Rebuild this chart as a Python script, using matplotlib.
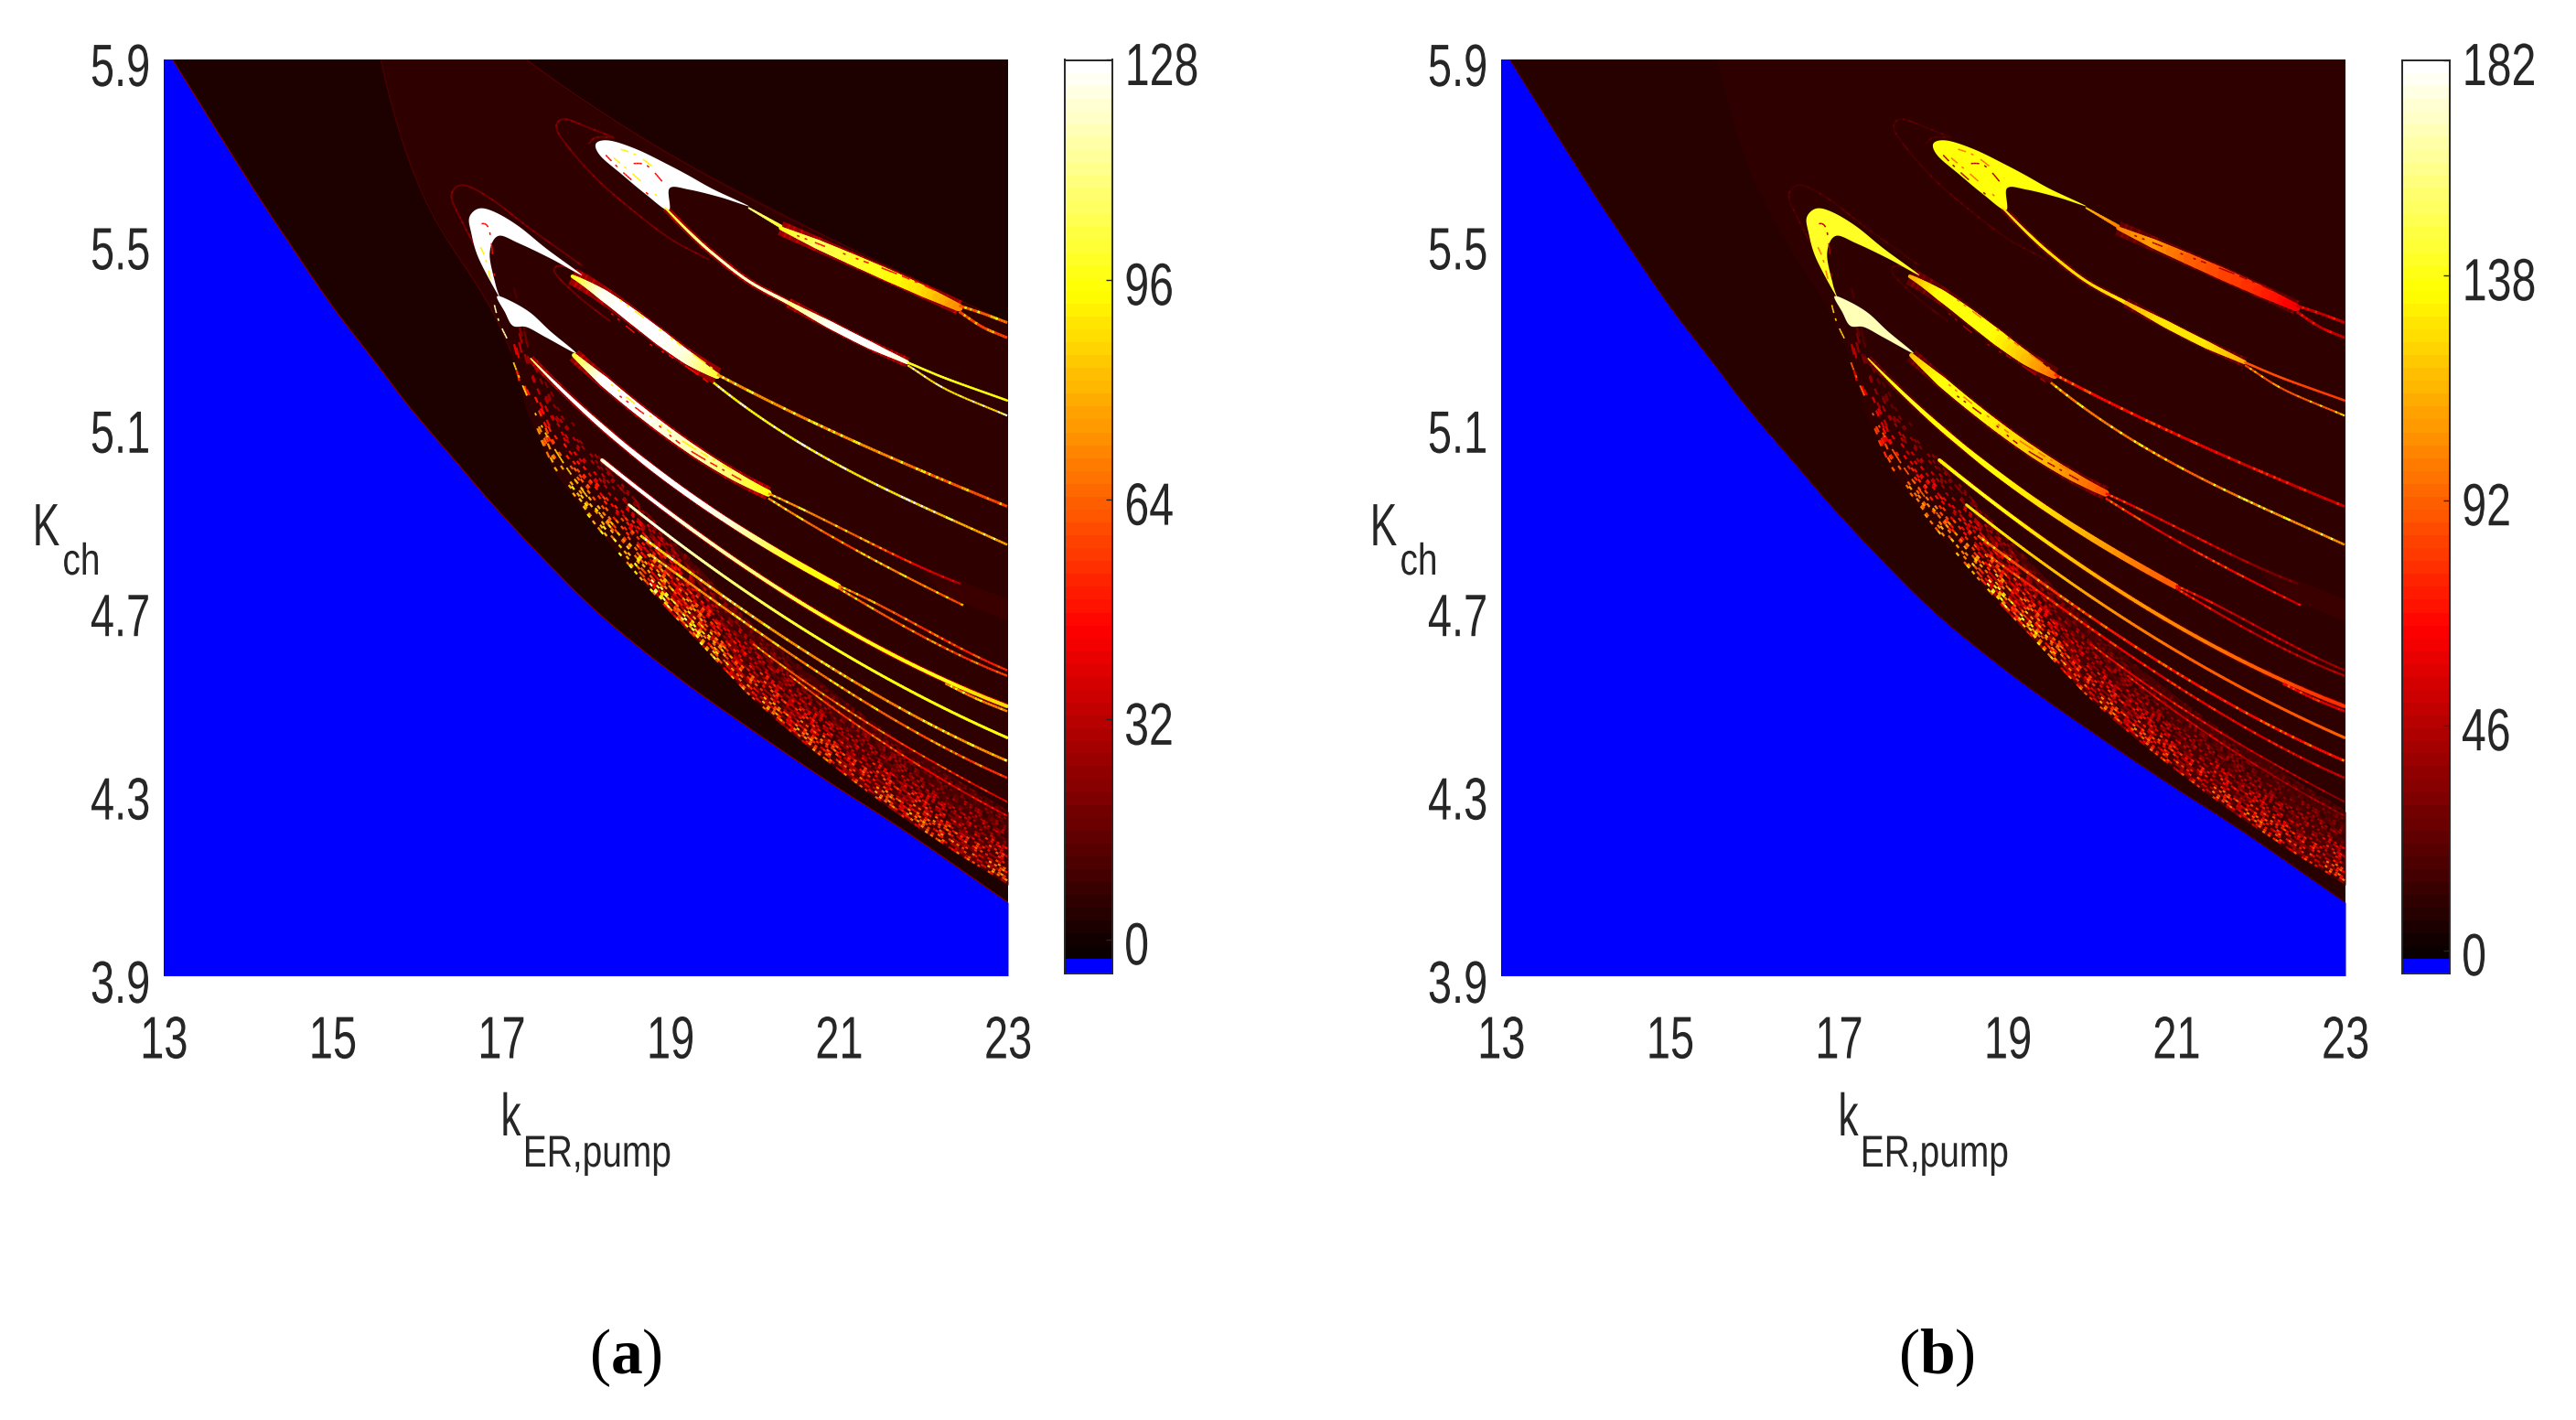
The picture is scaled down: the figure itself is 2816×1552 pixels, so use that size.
import numpy as np
import matplotlib
matplotlib.use("Agg")
import matplotlib.pyplot as plt
import matplotlib.patheffects as pe
from matplotlib.collections import LineCollection
from matplotlib.colors import ListedColormap, Normalize
from matplotlib.transforms import Affine2D, ScaledTranslation

# ---------- axes content ----------
X_TICKS = [13, 15, 17, 19, 21, 23]
Y_TICKS = [3.9, 4.3, 4.7, 5.1, 5.5, 5.9]
CBAR_TICKS_A = [0, 32, 64, 96, 128]
CBAR_TICKS_B = [0, 46, 92, 138, 182]
CBAR_MIN_A, CBAR_MAX_A = -4.9, 128
CBAR_MIN_B, CBAR_MAX_B = -4.66, 182

# background levels: left strip, middle region, top-right region, right wedge, fringe
BG_A = [1.5, 5.0, 1.5, 8.0, 8.0]
BG_B = [7.0, 9.0, 9.0, 12.0, 12.0]

# ---------- region boundaries (k, K) ----------
BLUE_K = [13.0, 13.1, 14.0, 14.5, 15.0, 15.5, 15.936, 16.478, 16.946, 17.6, 18.247, 19.132, 20.016, 20.901, 21.785, 23.0]
BLUE_CH = [5.93, 5.9, 5.635, 5.495, 5.36, 5.24, 5.135, 5.018, 4.918, 4.79, 4.675, 4.545, 4.43, 4.32, 4.215, 4.06]
ARC_K = [15.57, 15.7, 15.936, 16.22, 16.55, 16.876, 17.11]
ARC_CH = [5.9, 5.80, 5.659, 5.555, 5.449, 5.355, 5.262]
FRINGE_K = [17.15, 17.3, 17.6, 17.8, 18.25, 18.645, 19.01, 19.295, 19.55, 19.91, 20.27, 20.63, 20.99, 21.35, 21.715, 22.08, 22.44, 22.8, 23.0]
FRINGE_CH = [5.24, 5.13, 5.008, 4.955, 4.85, 4.765, 4.69, 4.636, 4.585, 4.515, 4.455, 4.40, 4.348, 4.298, 4.25, 4.205, 4.161, 4.121, 4.098]
TOP_K = [17.3, 18.05, 19.225, 20.635, 22.05, 23.0]
TOP_CH = [5.9, 5.796, 5.669, 5.535, 5.402, 5.325]
WEDGE_K = [21.895, 22.256, 23.0, 23.0]
WEDGE_CH = [4.801, 4.728, 4.674, 4.721]

# ---------- filled hooks ----------
H1_K = [18.12, 18.286, 18.615, 18.99, 19.225, 19.507, 19.93, 19.60, 19.225, 18.99, 18.98, 18.708, 18.427, 18.17]
H1_CH = [5.716, 5.722, 5.702, 5.668, 5.645, 5.616, 5.579, 5.598, 5.615, 5.618, 5.570, 5.605, 5.648, 5.689]
H2_K = [16.62, 16.735, 16.923, 17.205, 17.534, 17.957, 17.58, 17.205, 16.96, 16.86, 16.93, 16.97, 16.73, 16.64]
H2_CH = [5.555, 5.574, 5.566, 5.535, 5.486, 5.428, 5.465, 5.498, 5.514, 5.475, 5.408, 5.382, 5.465, 5.522]
H3_K = [16.946, 17.11, 17.346, 17.58, 17.886, 17.534, 17.30, 17.134, 17.04]
H3_CH = [5.382, 5.372, 5.346, 5.306, 5.258, 5.292, 5.315, 5.318, 5.348]
HOOK_A = [128, 128, 128]
HOOK_B = [135, 140, 168]

# ---------- bands ----------
U0_K = [19.93, 20.306]; U0_CH = [5.575, 5.535]; U0_A = [110, 100]; U0_B = [115, 100]
U1_K = [20.306, 20.635, 21.105, 21.575, 22.045, 22.42]; U1_CH = [5.532, 5.502, 5.469, 5.428, 5.389, 5.358]
U1_A = [98, 106, 100, 96, 88, 72]; U1_B = [100, 108, 92, 84, 76, 62]
U2_K = [22.42, 22.70, 22.99]; U2_CH = [5.362, 5.345, 5.325]; U2_A = [75, 80, 85]; U2_B = [62, 62, 66]
U3_K = [22.42, 22.70, 22.99]; U3_CH = [5.349, 5.315, 5.292]; U3_A = [72, 72, 72]; U3_B = [60, 60, 60]
D0_K = [18.94, 19.225, 19.507, 19.93, 20.40]; D0_CH = [5.575, 5.522, 5.475, 5.415, 5.368]; D0_A = [95, 110, 120, 120, 118]; D0_B = [125, 130, 125, 125, 128]
D1_K = [20.40, 20.87, 21.34, 21.81]; D1_CH = [5.368, 5.322, 5.278, 5.238]; D1_A = [110, 125, 128, 122]; D1_B = [115, 128, 128, 112]
D2_K = [21.81, 22.28, 22.99]; D2_CH = [5.238, 5.202, 5.155]; D2_A = [98, 96, 94]; D2_B = [88, 84, 80]
D3_K = [21.81, 22.28, 22.99]; D3_CH = [5.232, 5.178, 5.122]; D3_A = [110, 110, 105]; D3_B = [105, 110, 110]
B_K = [17.84, 18.145, 18.474, 18.85, 19.225, 19.555]; B_CH = [5.425, 5.395, 5.348, 5.295, 5.248, 5.208]
B_A = [96, 124, 128, 128, 122, 100]; B_B = [112, 135, 135, 135, 120, 95]
LA_K = [19.555, 20.165, 20.87, 21.17, 21.53, 21.895, 22.256, 22.617, 22.99]; LA_CH = [5.212, 5.155, 5.088, 5.068, 5.041, 5.008, 4.978, 4.951, 4.925]
LA_A = [92, 92, 90, 88, 92, 86, 78, 76, 72]; LA_B = [90, 85, 80, 75, 75, 70, 68, 65, 62]
LB_K = [19.51, 19.93, 20.45, 20.81, 21.17, 21.53, 21.895, 22.256, 22.617, 22.99]; LB_CH = [5.195, 5.135, 5.068, 5.035, 5.001, 4.961, 4.931, 4.901, 4.871, 4.841]
LB_A = [115, 118, 118, 118, 112, 112, 112, 100, 96, 96]; LB_B = [120, 125, 125, 118, 112, 118, 125, 130, 132, 132]
M_K = [17.86, 18.286, 18.755, 19.04, 19.37, 19.73, 20.16]; M_CH = [5.252, 5.19, 5.115, 5.071, 5.035, 4.998, 4.951]
M_A = [100, 128, 128, 122, 116, 108, 96]; M_B = [118, 135, 135, 128, 120, 105, 88]
M1_K = [20.16, 20.52, 20.88, 21.25, 21.61, 21.97, 22.44]; M1_CH = [4.951, 4.925, 4.888, 4.854, 4.821, 4.794, 4.754]
M1_A = [88, 92, 82, 75, 60, 45, 35]; M1_B = [82, 78, 70, 62, 50, 38, 28]
M2_K = [20.16, 20.45, 20.81, 21.17, 21.53, 21.895, 22.256, 22.47]; M2_CH = [4.942, 4.908, 4.868, 4.834, 4.794, 4.761, 4.728, 4.708]
M2_A = [92, 88, 78, 70, 90, 85, 80, 70]; M2_B = [90, 88, 70, 62, 85, 75, 70, 60]
L1_K = [17.346, 17.534, 17.91, 18.286, 18.52, 18.645, 19.01, 19.37, 19.73, 20.09, 20.45, 20.81, 20.99]
L1_CH = [5.255, 5.202, 5.142, 5.081, 5.048, 5.031, 4.981, 4.931, 4.884, 4.841, 4.804, 4.768, 4.751]
L1_A = [105, 128, 128, 128, 128, 128, 128, 126, 122, 112, 100, 96, 94]; L1_B = [125, 138, 138, 136, 135, 135, 132, 128, 120, 112, 104, 96, 90]
L1A_K = [20.99, 21.35, 21.715, 22.08, 22.44, 22.80, 22.99]; L1A_CH = [4.751, 4.721, 4.684, 4.651, 4.614, 4.581, 4.567]
L1A_A = [84, 78, 72, 66, 62, 62, 66]; L1A_B = [75, 68, 60, 56, 52, 50, 50]
L1B_K = [20.99, 21.35, 21.715, 22.08, 22.44, 22.99]; L1B_CH = [4.745, 4.708, 4.668, 4.628, 4.601, 4.554]
L1B_A = [82, 78, 72, 68, 66, 70]; L1B_B = [75, 68, 58, 54, 52, 55]
L2_K = [18.19, 18.474, 18.645, 19.01, 19.37, 19.73, 20.09, 20.45, 20.81, 21.17, 21.53, 21.895, 22.256, 22.617, 22.99]
L2_CH = [5.028, 4.981, 4.955, 4.908, 4.861, 4.811, 4.768, 4.728, 4.681, 4.644, 4.611, 4.578, 4.544, 4.515, 4.488]
L2_A = [122, 128, 128, 122, 118, 112, 108, 102, 98, 98, 96, 96, 98, 88, 88]; L2_B = [130, 138, 138, 132, 125, 118, 112, 108, 104, 100, 96, 92, 88, 80, 78]
L2B_K = [22.256, 22.617, 22.99]; L2B_CH = [4.538, 4.505, 4.477]; L2B_A = [90, 86, 90]; L2B_B = [80, 72, 72]
L3_K = [18.51, 18.645, 19.01, 19.37, 19.73, 20.09, 20.45, 20.81, 21.17, 21.53, 21.895, 22.256, 22.617, 22.99]
L3_CH = [4.928, 4.904, 4.858, 4.808, 4.764, 4.714, 4.668, 4.621, 4.591, 4.555, 4.521, 4.481, 4.451, 4.418]
L3_A = [118, 124, 118, 112, 108, 104, 100, 98, 98, 96, 96, 96, 96, 96]; L3_B = [125, 130, 122, 118, 112, 105, 100, 96, 92, 90, 88, 88, 88, 92]
L4_K = [18.645, 19.01, 19.37, 19.73, 20.09, 20.45, 20.81, 21.17, 21.53, 21.895, 22.256, 22.617, 22.99]
L4_CH = [4.861, 4.811, 4.761, 4.714, 4.668, 4.628, 4.581, 4.545, 4.505, 4.468, 4.428, 4.398, 4.371]
L4_A = [110, 108, 100, 98, 96, 92, 90, 88, 86, 88, 90, 90, 92]; L4_B = [115, 110, 100, 96, 92, 88, 86, 84, 84, 84, 84, 84, 84]
L5_K = [18.75, 19.11, 19.475, 19.84, 20.20, 20.56, 20.92, 21.28, 21.64, 22.0, 22.365, 22.73, 22.99]
L5_CH = [4.821, 4.774, 4.721, 4.674, 4.628, 4.588, 4.545, 4.501, 4.461, 4.421, 4.381, 4.354, 4.334]
L5_A = [95, 92, 90, 88, 88, 86, 84, 82, 80, 76, 72, 68, 66]; L5_B = [95, 92, 88, 84, 80, 78, 76, 74, 72, 70, 66, 62, 60]
L6_K = [19.98, 20.38, 20.81, 21.25, 21.61, 21.97, 22.33, 22.69, 22.99]
L6_CH = [4.628, 4.561, 4.515, 4.468, 4.421, 4.381, 4.341, 4.308, 4.281]
L6_A = [80, 78, 76, 72, 68, 64, 58, 52, 48]; L6_B = [78, 76, 72, 68, 64, 58, 52, 48, 44]
L7_K = [20.41, 20.85, 21.28, 21.715, 22.18, 22.617, 22.99]
L7_CH = [4.555, 4.495, 4.441, 4.381, 4.334, 4.288, 4.248]
L7_A = [72, 70, 66, 60, 52, 46, 42]; L7_B = [70, 66, 60, 54, 48, 42, 38]

# thin outer arcs around the hooks
AT1_K = [18.33, 18.05, 17.745, 17.65, 17.816, 18.145, 18.52, 18.99, 19.46]
AT1_CH = [5.729, 5.749, 5.769, 5.749, 5.702, 5.635, 5.575, 5.509, 5.462]
AT2_K = [18.03, 18.12, 18.33]; AT2_CH = [5.715, 5.729, 5.729]
AH1_K = [16.923, 16.735, 16.523, 16.406, 16.547, 16.876, 17.346, 17.957]
AH1_CH = [5.408, 5.475, 5.549, 5.602, 5.625, 5.595, 5.529, 5.449]
AB_K = [18.286, 17.91, 17.628, 17.72, 17.957]; AB_CH = [5.328, 5.382, 5.435, 5.449, 5.428]
ARC_VAL_A = 21
ARC_VAL_B = 20
THIN_K = [16.9, 16.97, 17.087]; THIN_CH = [5.375, 5.328, 5.282]
THIN2_K = [17.12, 17.2, 17.33, 17.5, 17.7, 17.95, 18.2]; THIN2_CH = [5.255, 5.2, 5.16, 5.09, 5.03, 4.96, 4.90]

# specks inside the bright parts
FLECK1_K = [18.19, 18.427, 18.755]; FLECK1_CH = [5.699, 5.655, 5.602]
FLECK2_K = [18.28, 18.55, 18.85]; FLECK2_CH = [5.692, 5.650, 5.600]
FLECK3_K = [18.5, 18.72, 18.94]; FLECK3_CH = [5.672, 5.668, 5.625]
FLECK4_K = [18.35, 18.62, 18.96]; FLECK4_CH = [5.707, 5.688, 5.640]
FLECK5_K = [16.7, 16.85, 16.92]; FLECK5_CH = [5.54, 5.53, 5.42]
FLECK6_K = [16.72, 16.8, 16.87]; FLECK6_CH = [5.50, 5.47, 5.42]
FLECK7_K = [18.3, 18.7, 19.1, 19.45]; FLECK7_CH = [5.345, 5.285, 5.24, 5.195]
FLECK8_K = [18.4, 18.8, 19.2, 19.5]; FLECK8_CH = [5.375, 5.32, 5.265, 5.225]
FLECK9_K = [20.5, 21.1, 21.7, 22.3]; FLECK9_CH = [5.515, 5.472, 5.43, 5.382]
FLECK10_K = [18.3, 18.7, 19.2, 19.9]; FLECK10_CH = [5.19, 5.13, 5.06, 4.985]
FLECK11_K = [18.4, 18.8, 19.2, 19.9]; FLECK11_CH = [5.165, 5.11, 5.05, 4.975]

# speckled fringe
FRINGE_A = [35, 45, 55, 60, 68, 78, 78, 72, 66, 58, 54, 52, 52, 52, 52, 52, 52, 52, 52]
FRINGE_B = [40, 50, 62, 70, 85, 100, 100, 92, 85, 75, 70, 66, 66, 66, 66, 66, 66, 66, 66]
SPARSE_K = [17.15, 18.0, 18.6, 19.0, 23.0]
SPARSE_CUT = [1.3, 1.15, 0.8, 0.12, 0.08]
STRAND_DEPTH = np.arange(0.003, 0.165, 0.0058)
STRAND_GAIN_AT = [0.0, 0.02, 0.05, 0.09, 0.13, 0.165]
STRAND_GAIN = [0.95, 1.0, 0.8, 0.55, 0.36, 0.24]
SPECKLE = [1.0, .3, 1.25, 0, .6, 1.4, .2, .9, .05, 1.1, .45, 1.5, 0, .7, .25, 1.2, .5, .1, .95, .35, 0, 1.3, .15, .8,
           .4, 1.05, 0, .65, 1.35, .3, .2, 1.15, .55, 0, .85, .1, 1.45, .6, .25, .75, 0, 1.0, .4]

# ---------- layout ----------
W, H = 2816, 1552
plt.rcParams['font.family'] = ['Liberation Sans']
plt.rcParams['mathtext.fontset'] = 'custom'
plt.rcParams['mathtext.rm'] = 'Liberation Serif'
plt.rcParams['mathtext.bf'] = 'Liberation Serif:bold'
TXT = '#262626'
FS = 47
PX = 0.72

fig = plt.figure(figsize=(W / 100, H / 100), dpi=100, facecolor='white')


def box(l, t, r, b):
    return [l / W, 1 - b / H, (r - l) / W, (b - t) / H]


class Squeeze(pe.AbstractPathEffect):
    def __init__(self, sx=0.72, anchor='center'):
        super().__init__()
        self.sx, self.anchor = sx, anchor

    def draw_path(self, renderer, gc, tpath, affine, rgbFace=None):
        e = tpath.get_extents()
        c = {'center': (e.x0 + e.x1) / 2, 'left': e.x0, 'right': e.x1}[self.anchor]
        t = Affine2D().translate(-c, 0).scale(self.sx, 1).translate(c, 0)
        renderer.draw_path(gc, tpath, t + affine, rgbFace)


hot = plt.get_cmap('hot')
N = 70
LUT = ListedColormap(np.vstack([[0, 0, 1, 1], hot(np.linspace(0, 1, N))]))


def catmull(k, ch, closed=False, n=8):
    p = np.column_stack([np.asarray(k, float), np.asarray(ch, float)])
    if closed:
        q = np.vstack([p[-1], p, p[0], p[1]])
    else:
        q = np.vstack([2 * p[0] - p[1], p, 2 * p[-1] - p[-2]])
    t = np.linspace(0, 1, n, endpoint=False)[:, None]
    out = []
    for i in range(1, len(q) - 2):
        a, b, c, d = q[i - 1], q[i], q[i + 1], q[i + 2]
        out.append(0.5 * (2 * b + (c - a) * t + (2 * a - 5 * b + 4 * c - d) * t ** 2 + (3 * b - a - 3 * c + d) * t ** 3))
    out = np.vstack(out)
    if not closed:
        out = np.vstack([out, p[-1]])
    return out[:, 0], out[:, 1]


def smooth(k, ch):
    k = np.asarray(k, float)
    ch = np.asarray(ch, float)
    if len(k) >= 6 and np.all(np.diff(k) > 0):
        kk = np.linspace(k[0], k[-1], 60)
        c = np.polyfit(k - k.mean(), ch, 3)
        return kk, np.polyval(c, kk - k.mean())
    return catmull(k, ch)


def curve(ax, norm, k, ch, vals, width, mode=None):
    k, ch = smooth(k, ch)
    d = np.r_[0, np.cumsum(np.hypot(np.diff(k) * 92.3, np.diff(ch) * 500))]
    step = 3.0
    s = np.arange(0, d[-1] + step, step)
    s[-1] = d[-1]
    xs, ys = np.interp(s, d, k), np.interp(s, d, ch)
    v = np.interp(s / d[-1], np.linspace(0, 1, len(vals)), vals)
    wd = np.atleast_1d(width).astype(float)
    w = np.interp(s / d[-1], np.linspace(0, 1, len(wd)), wd) * PX
    segs, cols, lws = [], [], []
    for i in range(len(s) - 1):
        m = SPECKLE[(i * 2 + len(k)) % len(SPECKLE)]
        val = v[i]
        if mode == 'mottle':
            val = val * np.clip(m, 0.8, 1.15)
        elif mode == 'fleck' and m < 0.7:
            continue
        segs.append([(xs[i], ys[i]), (xs[i + 1], ys[i + 1])])
        cols.append(LUT(norm(val)))
        lws.append(w[i])
    ax.add_collection(LineCollection(segs, colors=cols, linewidths=lws,
                                     capstyle='butt' if mode else 'round', zorder=5))


def speckle(ax, norm, base, floor):
    fk = np.array(FRINGE_K)
    fc = np.array(FRINGE_CH)
    for j, dep in enumerate(STRAND_DEPTH):
        gain = np.interp(dep, STRAND_GAIN_AT, STRAND_GAIN)
        ks = np.arange(fk[0] + 0.013 * (j % 3), 23.0, 0.031)
        cs = np.interp(ks, fk, fc) + dep
        vs = np.interp(ks, fk, base) * gain
        cut = np.interp(ks, SPARSE_K, SPARSE_CUT)
        segs, cols = [], []
        for i in range(len(ks) - 1):
            m = SPECKLE[(i * 5 + j * j * 3 + j) % len(SPECKLE)]
            if m < cut[i]:
                continue
            segs.append([(ks[i], cs[i]), (ks[i + 1], cs[i + 1])])
            cols.append(LUT(norm(max(vs[i] * m, floor))))
        ax.add_collection(LineCollection(segs, colors=cols, linewidths=2.3 * PX,
                                         capstyle='butt', zorder=3))


def panel(left, cleft, vmin, vmax, cticks, bg, hooks, sfx, arcval, fringe, caption, capx):
    ax = fig.add_axes(box(left, 64.5, left + 923, 1066.5))
    norm = Normalize(vmin, vmax)
    col = lambda v: LUT(norm(v))
    g = globals()
    ax.set_facecolor(col(bg[0]))
    ax.set_xlim(13, 23)
    ax.set_ylim(3.9, 5.9)

    # middle region, top-right region, wedge, fringe
    ax.fill(ARC_K + FRINGE_K + [23, 23.0, 17.134], ARC_CH + FRINGE_CH + [4.098, 5.9, 5.9], color=col(bg[1]), lw=0, zorder=1)
    tk, tc = catmull(TOP_K, TOP_CH)
    ax.fill(np.r_[tk, 23.0], np.r_[tc, 5.9], color=col(bg[2]), lw=0, zorder=1.1)
    ax.fill(WEDGE_K, WEDGE_CH, color=col(bg[3]), lw=0, zorder=1.2)
    fk = np.array(FRINGE_K[5:])
    fc = np.array(FRINGE_CH[5:])
    ax.fill_between(fk, fc, fc + 0.16, color=col(bg[4]), lw=0, zorder=1.3)
    speckle(ax, norm, fringe, bg[4] * 1.4)
    bk, bc = catmull(BLUE_K, BLUE_CH)
    ax.fill_between(bk, 3.9, bc, color='#0000ff', lw=0, zorder=4)
    ax.plot(bk[8:], bc[8:], color=col(arcval), lw=1.2 * PX, zorder=4.1)

    # thin arcs
    for a in ['AT1', 'AT2', 'AH1', 'AB']:
        curve(ax, norm, g[a + '_K'], g[a + '_CH'], [arcval, arcval], 2.0, 'mottle')
    curve(ax, norm, ARC_K, ARC_CH, [arcval * .55, arcval * .55], 1.2)
    curve(ax, norm, TOP_K, TOP_CH, [arcval * .5, arcval * .5], 1.4)
    curve(ax, norm, THIN_K, THIN_CH, [hooks[0] * .9, hooks[0] * .9], 1.6, 'fleck')
    curve(ax, norm, THIN2_K, THIN2_CH, [hooks[0] * .65, hooks[0] * .65], 1.8, 'fleck')

    # halo under the bright bands
    for name, w in [('U1', 16), ('D1', 11), ('B', 19), ('M', 15), ('L1', 8), ('D0', 7), ('L2', 6)]:
        curve(ax, norm, g[name + '_K'], g[name + '_CH'], [arcval * 1.5, arcval * 1.5], w, 'mottle')

    # hooks
    for (kk, cc), v in zip([(H1_K, H1_CH), (H2_K, H2_CH), (H3_K, H3_CH)], hooks):
        sk, sc = catmull(kk, cc, closed=True)
        ax.fill(sk, sc, color=col(v), lw=0, zorder=5)

    widths = {
        'U0': [2, 4], 'U1': [4, 10, 12, 13, 12, 8], 'U2': 3, 'U3': 3, 'D0': [2, 3, 3, 3, 4],
        'D1': [4, 8, 8, 4], 'D2': 2.5, 'D3': 2.2, 'B': [4, 12, 15, 16, 14, 6], 'LA': 3.0, 'LB': 2.6,
        'M': [5, 11, 11, 11, 11, 10, 7], 'M1': 2.4, 'M2': 2.4, 'L1': [1.5, 3, 4, 5, 5, 6, 6, 6, 6, 6.5, 6.5, 6.5, 6],
        'L1A': 2.4, 'L1B': 2.4, 'L2': 3.8, 'L2B': 2.6, 'L3': 3, 'L4': 2.8, 'L5': 2.5, 'L6': 2.0, 'L7': 2.0,
    }
    modes = {'LB': 'mottle', 'LA': 'mottle', 'M2': 'mottle', 'M1': 'mottle', 'L7': 'mottle', 'L6': 'mottle',
             'D3': 'mottle', 'L5': 'mottle', 'L4': 'mottle', 'U2': 'mottle', 'U3': 'mottle', 'L1A': 'mottle',
             'L1B': 'mottle', 'L2B': 'mottle'}
    for name, w in widths.items():
        curve(ax, norm, g[name + '_K'], g[name + '_CH'], g[name + sfx], w, modes.get(name))

    # specks in the bright parts: alternating dark-red and mid-bright
    dark = arcval * 2.2
    mid = hooks[0] * 0.72
    for i in range(1, 12):
        v = dark if i % 2 else mid
        curve(ax, norm, g[f'FLECK{i}_K'], g[f'FLECK{i}_CH'], [v, v], 1.5, 'fleck')

    ax.set_xticks(X_TICKS, [str(t) for t in X_TICKS])
    ax.set_yticks(Y_TICKS, [f'{t:.1f}' for t in Y_TICKS])
    ax.tick_params(length=0, labelsize=FS, labelcolor=TXT)
    ax.tick_params(axis='x', pad=31)
    ax.tick_params(axis='y', pad=10)
    for s in ax.spines.values():
        s.set_visible(False)
    for lab in ax.get_xticklabels():
        lab.set_path_effects([Squeeze(0.72, 'center')])
    for lab in ax.get_yticklabels():
        lab.set_path_effects([Squeeze(0.72, 'right')])
        lab.set_transform(lab.get_transform() + ScaledTranslation(0, -6 / 100, fig.dpi_scale_trans))

    dx = left - 179
    fig.text((546 + dx) / W, 1 - 1241 / H, 'k', fontsize=FS, color=TXT, ha='left', va='baseline',
             path_effects=[Squeeze(0.68, 'left')])
    fig.text((571 + dx) / W, 1 - 1275 / H, 'ER,pump', fontsize=35, color=TXT, ha='left', va='baseline',
             path_effects=[Squeeze(0.8, 'left')])
    fig.text((34 + dx) / W, 1 - 596 / H, 'K', fontsize=FS, color=TXT, ha='left', va='baseline',
             path_effects=[Squeeze(0.68, 'left')])
    fig.text((68 + dx) / W, 1 - 628 / H, 'ch', fontsize=35, color=TXT, ha='left', va='baseline',
             path_effects=[Squeeze(0.8, 'left')])
    fig.text(capx / W, 1 - 1484 / H, caption, fontsize=50, family='Liberation Serif', color='black',
             ha='center', va='center')

    # colour bar
    cax = fig.add_axes(box(cleft, 65.5, cleft + 52, 1063.5))
    levels = np.linspace(vmin, vmax, 1000)[:, None]
    cax.imshow(levels, origin='lower', aspect='auto', cmap=LUT, norm=norm, extent=[0, 1, vmin, vmax], interpolation='nearest')
    cax.set_xticks([])
    cax.yaxis.tick_right()
    cax.set_yticks(cticks, [str(t) for t in cticks])
    cax.tick_params(axis='y', direction='in', length=5, width=1, color=TXT, labelsize=FS, labelcolor=TXT, pad=9)
    for s in cax.spines.values():
        s.set_linewidth(1.4)
        s.set_color(TXT)
    for lab in cax.get_yticklabels():
        lab.set_path_effects([Squeeze(0.74, 'left')])
        lab.set_transform(lab.get_transform() + ScaledTranslation(0, -4 / 100, fig.dpi_scale_trans))


panel(179, 1164, CBAR_MIN_A, CBAR_MAX_A, CBAR_TICKS_A, BG_A, HOOK_A, '_A', ARC_VAL_A, FRINGE_A, r'($\mathbf{a}$)', 684)
panel(1641, 2626, CBAR_MIN_B, CBAR_MAX_B, CBAR_TICKS_B, BG_B, HOOK_B, '_B', ARC_VAL_B, FRINGE_B, r'($\mathbf{b}$)', 2117)

fig.savefig('out.png', dpi=100, facecolor='white')
